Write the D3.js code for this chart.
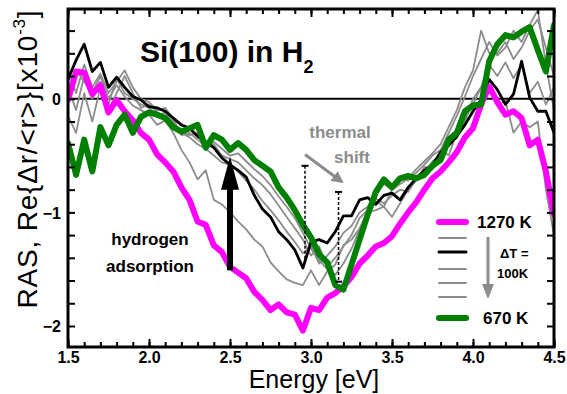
<!DOCTYPE html>
<html>
<head>
<meta charset="utf-8">
<script src="https://cdn.jsdelivr.net/npm/d3@7"></script>
<style>
  body { margin: 0; background: #fff; }
  svg text { font-family: "Liberation Sans", Arial, sans-serif; }
</style>
</head>
<body>
<svg id="chart" width="567" height="394"></svg>
<script>
// photon energy grid [eV]
const energy = [1.50,1.55,1.60,1.65,1.70,1.75,1.80,1.85,1.90,1.95,
  2.00,2.05,2.10,2.15,2.20,2.25,2.30,2.35,2.40,2.45,
  2.50,2.55,2.60,2.65,2.70,2.75,2.80,2.85,2.90,2.95,
  3.00,3.05,3.10,3.15,3.20,3.25,3.30,3.35,3.40,3.45,
  3.50,3.55,3.60,3.65,3.70,3.75,3.80,3.85,3.90,3.95,
  4.00,4.05,4.10,4.15,4.20,4.25,4.30,4.35,4.40,4.45,4.50];

// RAS spectra, Re{dr/<r>} x1e-3
const ras1270 = [-0.01,0.24,0.23,0.04,0.12,-0.12,-0.01,-0.11,-0.19,-0.30,
  -0.36,-0.49,-0.56,-0.64,-0.78,-0.89,-1.08,-1.11,-1.29,-1.35,
  -1.48,-1.53,-1.58,-1.70,-1.77,-1.86,-1.81,-1.88,-1.90,-2.04,
  -1.84,-1.86,-1.75,-1.71,-1.65,-1.57,-1.45,-1.38,-1.30,-1.27,
  -1.21,-1.10,-1.00,-0.91,-0.80,-0.70,-0.64,-0.56,-0.47,-0.34,
  -0.26,-0.05,0.11,-0.03,-0.14,-0.11,-0.17,-0.41,-0.36,-0.64,-1.02];
const ras1170 = [0.05,0.25,0.15,0.05,0.20,0.00,0.12,0.02,-0.06,-0.10,
  -0.14,-0.23,-0.19,-0.30,-0.45,-0.56,-0.71,-0.63,-0.89,-0.93,
  -1.00,-1.08,-1.15,-1.24,-1.30,-1.44,-1.52,-1.59,-1.62,-1.64,
  -1.51,-1.64,-1.52,-1.46,-1.29,-1.24,-1.14,-1.00,-0.98,-0.95,
  -1.04,-0.92,-0.80,-0.72,-0.60,-0.62,-0.45,-0.50,-0.30,-0.20,
  0.00,0.10,0.12,-0.05,-0.02,-0.30,-0.20,-0.25,-0.20,-0.80,-1.20];
const ras1070 = [0.17,0.34,0.48,0.24,0.32,0.10,0.19,0.10,0.02,-0.01,
  -0.07,-0.08,-0.11,-0.17,-0.23,-0.26,-0.33,-0.38,-0.43,-0.52,
  -0.58,-0.63,-0.69,-0.85,-0.97,-1.04,-1.17,-1.24,-1.33,-1.49,
  -1.26,-1.24,-1.27,-1.17,-1.03,-1.03,-0.89,-0.87,-0.93,-0.85,
  -0.83,-0.89,-0.78,-0.70,-0.63,-0.58,-0.47,-0.41,-0.33,-0.23,
  -0.11,-0.01,0.17,0.08,-0.05,0.04,0.33,0.01,-0.11,-0.11,-0.30];
const ras970 = [0.10,-0.10,0.20,0.00,0.15,-0.05,0.18,0.05,0.00,-0.05,
  -0.08,-0.15,-0.12,-0.22,-0.30,-0.34,-0.40,-0.44,-0.50,-0.56,
  -0.58,-0.64,-0.72,-0.80,-0.90,-0.98,-1.07,-1.17,-1.26,-1.36,
  -1.30,-1.45,-1.38,-1.30,-1.18,-1.12,-1.00,-0.95,-0.88,-0.92,
  -0.85,-0.80,-0.82,-0.70,-0.66,-0.55,-0.50,-0.38,-0.35,-0.18,
  -0.05,0.10,0.30,0.20,0.32,0.18,0.30,0.05,0.15,-0.05,0.10];
const ras870 = [0.25,0.05,0.30,0.10,0.22,0.05,0.15,0.25,0.10,0.00,
  -0.03,-0.10,-0.08,-0.18,-0.32,-0.30,-0.36,-0.42,-0.40,-0.50,
  -0.53,-0.56,-0.63,-0.70,-0.76,-0.84,-0.94,-1.04,-1.14,-1.24,
  -1.38,-1.30,-1.48,-1.40,-1.30,-1.20,-1.05,-0.98,-0.90,-0.95,
  -0.80,-0.75,-0.70,-0.62,-0.55,-0.48,-0.40,-0.25,-0.10,0.10,
  0.25,0.60,0.40,0.40,0.50,0.35,0.45,0.60,0.70,0.45,0.20];
const ras770 = [-0.15,-0.30,0.05,-0.20,0.10,-0.10,0.05,0.20,0.05,-0.08,
  -0.05,-0.12,-0.15,-0.20,-0.30,-0.32,-0.30,-0.45,-0.38,-0.44,
  -0.50,-0.48,-0.55,-0.62,-0.68,-0.76,-0.86,-0.95,-1.05,-1.18,
  -1.32,-1.42,-1.50,-1.55,-1.45,-1.32,-1.15,-1.00,-0.85,-0.75,
  -0.80,-0.70,-0.72,-0.65,-0.58,-0.50,-0.45,-0.30,-0.15,0.02,
  0.20,0.35,0.50,0.38,0.45,0.60,0.50,0.65,0.78,0.30,-0.10];
const ras670 = [-0.39,-0.67,-0.36,-0.64,-0.25,-0.41,-0.23,-0.14,-0.30,-0.16,
  -0.12,-0.14,-0.17,-0.25,-0.29,-0.26,-0.23,-0.43,-0.32,-0.36,
  -0.45,-0.39,-0.45,-0.54,-0.59,-0.64,-0.78,-0.87,-0.98,-1.11,
  -1.22,-1.37,-1.44,-1.64,-1.68,-1.46,-1.24,-1.02,-0.82,-0.71,
  -0.78,-0.70,-0.68,-0.70,-0.67,-0.59,-0.54,-0.36,-0.30,-0.11,
  -0.06,-0.05,0.33,0.48,0.56,0.54,0.59,0.63,0.43,0.24,0.65];

const temps = ["1270 K", "1170 K", "1070 K", "970 K", "870 K", "770 K", "670 K"];
const xTicks = [1.5, 2.0, 2.5, 3.0, 3.5, 4.0, 4.5];
const yTicks = [0, -1, -2];

const series = [
  { name: temps[1], values: ras1170, color: "#8c8c8c", width: 1.8 },
  { name: temps[3], values: ras970, color: "#8c8c8c", width: 1.8 },
  { name: temps[4], values: ras870, color: "#8c8c8c", width: 1.8 },
  { name: temps[5], values: ras770, color: "#8c8c8c", width: 1.8 },
  { name: temps[2], values: ras1070, color: "#000000", width: 2.8 },
  { name: temps[0], values: ras1270, color: "#ff00ff", width: 6 },
  { name: temps[6], values: ras670, color: "#008000", width: 6 }
];

const svg = d3.select("#chart");
const pL = 68, pR = 554, pT = 9, pB = 347;

const x = d3.scaleLinear().domain([1.5, 4.5]).range([pL, pR]);
const y = d3.scaleLinear().domain([-2.185, 0.79]).range([pB, pT]);

svg.append("rect").attr("width", 567).attr("height", 394).attr("fill", "#fff");

const defs = svg.append("defs");
defs.append("clipPath").attr("id", "plotClip")
  .append("rect")
  .attr("x", pL).attr("y", pT)
  .attr("width", pR - pL).attr("height", pB - pT);

// zero line
svg.append("line")
  .attr("x1", pL).attr("x2", pR)
  .attr("y1", y(0)).attr("y2", y(0))
  .attr("stroke", "#000").attr("stroke-width", 2);

const line = d3.line()
  .x((d, i) => x(energy[i]))
  .y(d => y(d));

const curves = svg.append("g").attr("clip-path", "url(#plotClip)");
curves.selectAll("path")
  .data(series)
  .join("path")
  .attr("d", s => line(s.values))
  .attr("fill", "none")
  .attr("stroke", s => s.color)
  .attr("stroke-width", s => s.width)
  .attr("stroke-linejoin", "round")
  .attr("stroke-linecap", "round");

// axes: inward ticks on all four sides
const xMinor = d3.range(15, 46).map(v => v / 10);
const yMinor = d3.range(-10, 4).map(v => v / 5);

const gB = svg.append("g").attr("transform", `translate(0,${pB})`)
  .call(d3.axisBottom(x).tickValues(xTicks).tickSize(-8).tickFormat(d3.format(".1f")));
const gBm = svg.append("g").attr("transform", `translate(0,${pB})`)
  .call(d3.axisBottom(x).tickValues(xMinor).tickSize(-5).tickFormat(""));
const gT = svg.append("g").attr("transform", `translate(0,${pT})`)
  .call(d3.axisTop(x).tickValues(xTicks).tickSize(-8).tickFormat(""));
const gTm = svg.append("g").attr("transform", `translate(0,${pT})`)
  .call(d3.axisTop(x).tickValues(xMinor).tickSize(-5).tickFormat(""));
const gL = svg.append("g").attr("transform", `translate(${pL},0)`)
  .call(d3.axisLeft(y).tickValues(yMinor).tickSize(-7).tickFormat(""));
const gL2 = svg.append("g").attr("transform", `translate(${pL},0)`)
  .call(d3.axisLeft(y).tickValues(yTicks).tickSize(0).tickPadding(7).tickFormat(d3.format("d")));
const gR = svg.append("g").attr("transform", `translate(${pR},0)`)
  .call(d3.axisRight(y).tickValues(yMinor).tickSize(-7).tickFormat(""));

[gB, gBm, gT, gTm, gL, gL2, gR].forEach(g => {
  g.select(".domain").remove();
  g.selectAll(".tick line").attr("stroke", "#000").attr("stroke-width", 2);
  g.selectAll(".tick text")
    .attr("font-family", "Liberation Sans, Arial, sans-serif")
    .attr("font-size", 16).attr("font-weight", "bold").attr("fill", "#000");
});
gB.selectAll(".tick text").attr("dy", null).attr("y", 16);
gL2.selectAll(".tick text").attr("dy", "0.36em");

svg.append("rect")
  .attr("x", pL).attr("y", pT)
  .attr("width", pR - pL).attr("height", pB - pT)
  .attr("fill", "none").attr("stroke", "#000").attr("stroke-width", 3);

// title
const title = svg.append("text")
  .attr("x", 140).attr("y", 62)
  .attr("font-size", 30).attr("font-weight", "bold");
title.append("tspan").text("Si(100) in H");
title.append("tspan").attr("font-size", 18).attr("dy", 11).text("2");

// axis labels
svg.append("text")
  .attr("x", (pL + pR) / 2 + 3).attr("y", 388)
  .attr("text-anchor", "middle").attr("font-size", 25)
  .text("Energy [eV]");

const yl = svg.append("text")
  .attr("transform", "translate(37,159) rotate(-90)")
  .attr("text-anchor", "middle").attr("font-size", 28)
  .attr("letter-spacing", 0.8);
yl.append("tspan").text("RAS, Re{\u0394r/<r>}[x10");
yl.append("tspan").attr("font-size", 17).attr("dy", -12).text("-3");
yl.append("tspan").attr("dy", 12).text("]");

// hydrogen adsorption arrow
const hx = x(2.5);
svg.append("line")
  .attr("x1", hx).attr("x2", hx)
  .attr("y1", y(-1.51)).attr("y2", y(-0.78))
  .attr("stroke", "#000").attr("stroke-width", 6);
svg.append("path")
  .attr("d", `M${hx - 9},${y(-0.80)} L${hx + 9},${y(-0.80)} L${hx},${y(-0.51)} Z`)
  .attr("fill", "#000");
svg.append("text").attr("x", 150).attr("y", 245)
  .attr("text-anchor", "middle").attr("font-size", 17).attr("font-weight", "bold")
  .text("hydrogen");
svg.append("text").attr("x", 150).attr("y", 272)
  .attr("text-anchor", "middle").attr("font-size", 17).attr("font-weight", "bold")
  .text("adsorption");

// thermal shift markers
const minima = [
  { e: 2.963, top: -0.59, bot: -1.44, capBottom: false },
  { e: 3.17, top: -0.82, bot: -1.61, capBottom: true }
];
minima.forEach(m => {
  svg.append("line")
    .attr("x1", x(m.e)).attr("x2", x(m.e))
    .attr("y1", y(m.top)).attr("y2", y(m.bot))
    .attr("stroke", "#000").attr("stroke-width", 1.5)
    .attr("stroke-dasharray", "3,2");
  svg.append("line")
    .attr("x1", x(m.e) - 3.5).attr("x2", x(m.e) + 3.5)
    .attr("y1", y(m.top)).attr("y2", y(m.top))
    .attr("stroke", "#000").attr("stroke-width", 2);
  if (m.capBottom) {
    svg.append("line")
      .attr("x1", x(m.e) - 3.5).attr("x2", x(m.e) + 3.5)
      .attr("y1", y(m.bot)).attr("y2", y(m.bot))
      .attr("stroke", "#000").attr("stroke-width", 2);
  }
});

defs.append("marker")
  .attr("id", "grayHead").attr("viewBox", "0 0 10 10")
  .attr("refX", 8).attr("refY", 5)
  .attr("markerWidth", 4).attr("markerHeight", 4)
  .attr("orient", "auto")
  .append("path").attr("d", "M0,0 L10,5 L0,10 Z").attr("fill", "#8c8c8c");

svg.append("line")
  .attr("x1", x(2.963)).attr("y1", y(-0.49))
  .attr("x2", x(3.19)).attr("y2", y(-0.73))
  .attr("stroke", "#8c8c8c").attr("stroke-width", 3)
  .attr("marker-end", "url(#grayHead)");
svg.append("text").attr("x", 340).attr("y", 138)
  .attr("text-anchor", "middle").attr("font-size", 17).attr("font-weight", "bold")
  .attr("fill", "#8c8c8c").text("thermal");
svg.append("text").attr("x", 352).attr("y", 163)
  .attr("text-anchor", "middle").attr("font-size", 17).attr("font-weight", "bold")
  .attr("fill", "#8c8c8c").text("shift");

// legend
const legendRows = [
  { y: 222, color: "#ff00ff", width: 6 },
  { y: 238, color: "#8c8c8c", width: 2 },
  { y: 252, color: "#000000", width: 3 },
  { y: 269, color: "#8c8c8c", width: 2 },
  { y: 283, color: "#8c8c8c", width: 2 },
  { y: 297, color: "#8c8c8c", width: 2 },
  { y: 318, color: "#008000", width: 6 }
];
const legend = svg.append("g");
legend.selectAll("line")
  .data(legendRows)
  .join("line")
  .attr("x1", 439).attr("x2", 466)
  .attr("y1", d => d.y).attr("y2", d => d.y)
  .attr("stroke", d => d.color)
  .attr("stroke-width", d => d.width)
  .attr("stroke-linecap", "round");
legend.append("text").attr("x", 477).attr("y", 228)
  .attr("font-size", 17).attr("font-weight", "bold").text(temps[0]);
legend.append("text").attr("x", 483).attr("y", 324)
  .attr("font-size", 17).attr("font-weight", "bold").text(temps[6]);
legend.append("line")
  .attr("x1", 488).attr("x2", 488).attr("y1", 237).attr("y2", 286)
  .attr("stroke", "#8c8c8c").attr("stroke-width", 3);
legend.append("path")
  .attr("d", "M482,284 L494,284 L488,299 Z").attr("fill", "#8c8c8c");
legend.append("text").attr("x", 500).attr("y", 258)
  .attr("font-size", 13).attr("font-weight", "bold").text("\u0394T =");
legend.append("text").attr("x", 497).attr("y", 278)
  .attr("font-size", 13).attr("font-weight", "bold").text("100K");
</script>
</body>
</html>
